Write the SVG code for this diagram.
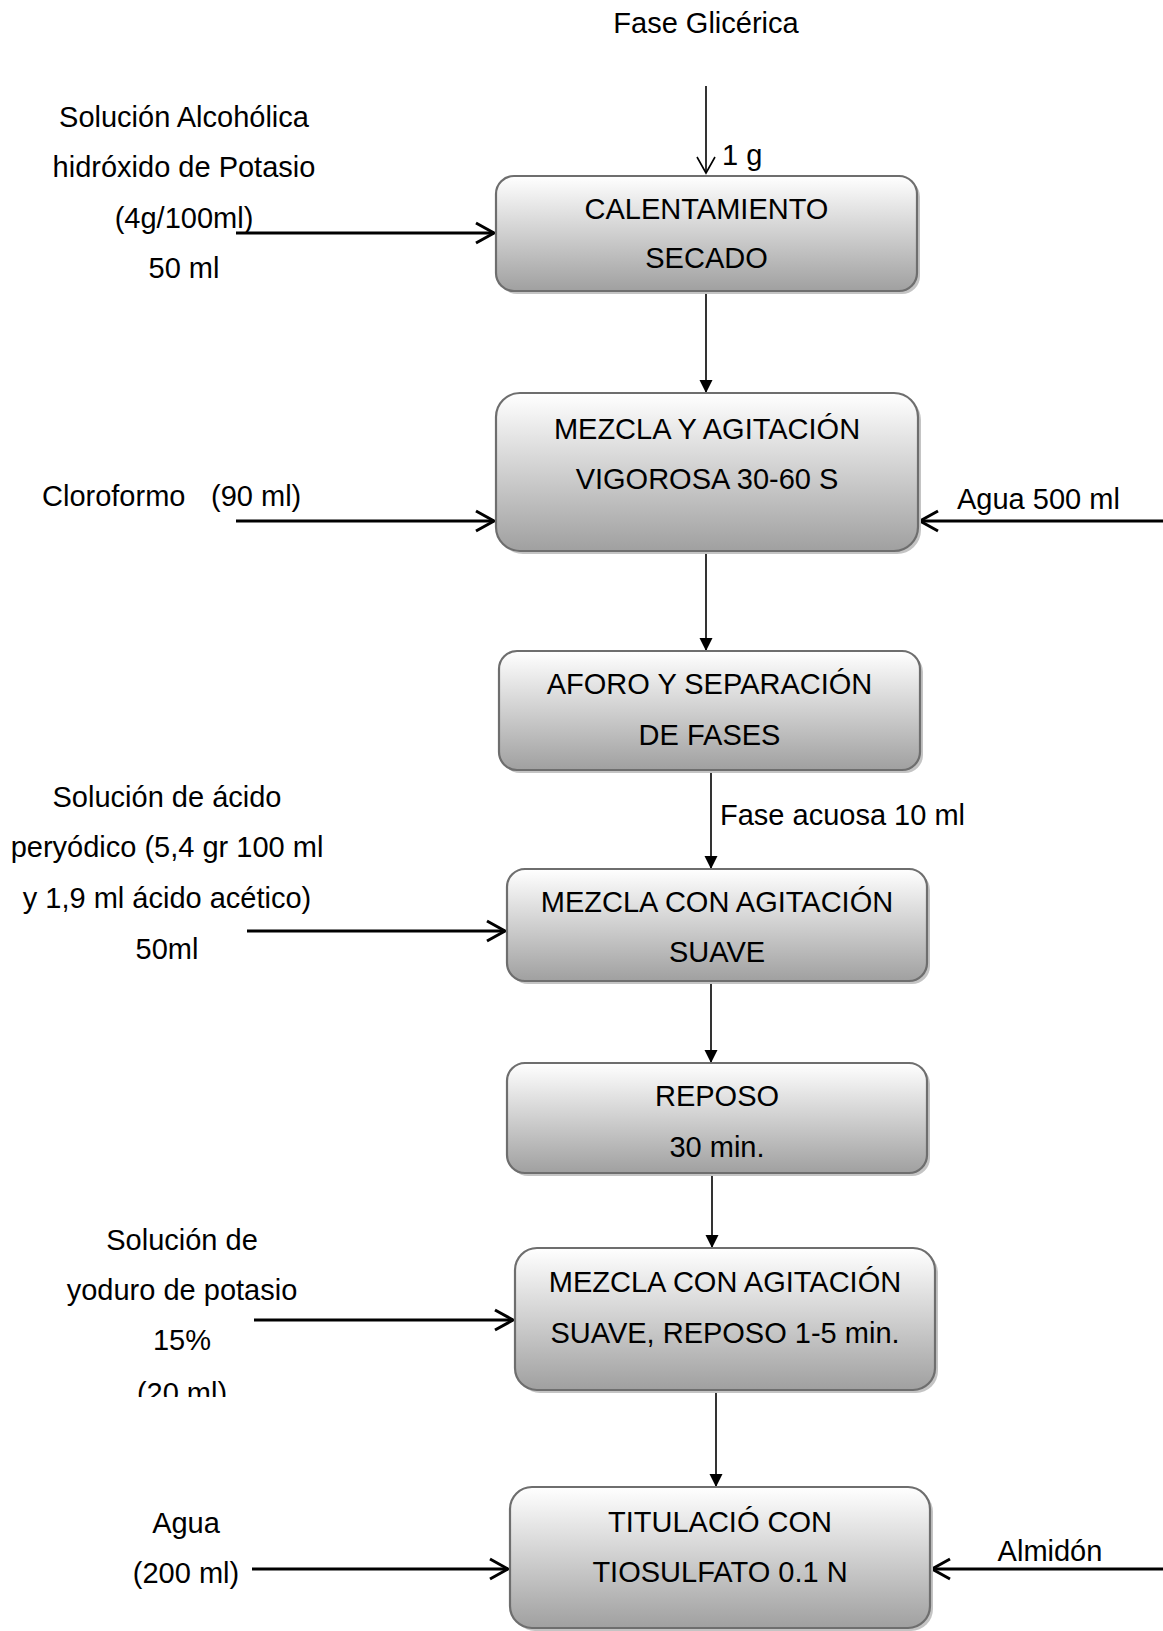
<svg xmlns="http://www.w3.org/2000/svg" width="1163" height="1631" viewBox="0 0 1163 1631">
  <style>
    text { font-family: "Liberation Sans", Arial, sans-serif; font-size: 29px; fill: #000; }
    .c { text-anchor: middle; }
    .box { fill: url(#grad); stroke: #6e6e6e; stroke-width: 2.2; }
    .shadow { fill: #c4c4c4; }
    .thick { stroke: #000; stroke-width: 3; fill: none; marker-end: url(#openBig); }
    .thin { stroke: #000; stroke-width: 1.6; fill: none; marker-end: url(#filled); }
    .thinopen { stroke: #000; stroke-width: 1.6; fill: none; marker-end: url(#openSmall); }
  </style>
  <defs>
    <linearGradient id="grad" x1="0" y1="0" x2="0" y2="1">
      <stop offset="0" stop-color="#ffffff"/>
      <stop offset="1" stop-color="#a0a0a0"/>
    </linearGradient>
    <marker id="openBig" markerUnits="userSpaceOnUse" viewBox="-22 -12 24 24" refX="0" refY="0" markerWidth="24" markerHeight="24" orient="auto" overflow="visible">
      <path d="M-18,-10 L0,0 L-18,10" fill="none" stroke="#000" stroke-width="3"/>
    </marker>
    <marker id="openSmall" markerUnits="userSpaceOnUse" viewBox="-20 -12 22 24" refX="0" refY="0" markerWidth="22" markerHeight="24" orient="auto" overflow="visible">
      <path d="M-16,-9 L0,0 L-16,9" fill="none" stroke="#000" stroke-width="1.6"/>
    </marker>
    <marker id="filled" markerUnits="userSpaceOnUse" viewBox="-14 -8 16 16" refX="0" refY="0" markerWidth="16" markerHeight="16" orient="auto" overflow="visible">
      <path d="M-13,-6.5 L0,0 L-13,6.5 Z" fill="#000"/>
    </marker>
    <clipPath id="clip20">
      <rect x="0" y="1360" width="400" height="37"/>
    </clipPath>
  </defs>

  <g id="connectors">
    <line class="thinopen" x1="706" y1="86" x2="706" y2="173"/>
    <line class="thin" x1="706" y1="292" x2="706" y2="393"/>
    <line class="thin" x1="706" y1="552" x2="706" y2="651"/>
    <line class="thin" x1="711" y1="771" x2="711" y2="869"/>
    <line class="thin" x1="711" y1="982" x2="711" y2="1063"/>
    <line class="thin" x1="712" y1="1174" x2="712" y2="1248"/>
    <line class="thin" x1="716" y1="1391" x2="716" y2="1487"/>
    <line class="thick" x1="236" y1="233" x2="494" y2="233"/>
    <line class="thick" x1="236" y1="521" x2="494" y2="521"/>
    <line class="thick" x1="1163" y1="521" x2="920" y2="521"/>
    <line class="thick" x1="247" y1="931" x2="505" y2="931"/>
    <line class="thick" x1="254" y1="1320" x2="513" y2="1320"/>
    <line class="thick" x1="252" y1="1569" x2="508" y2="1569"/>
    <line class="thick" x1="1163" y1="1569" x2="932" y2="1569"/>
  </g>

  <g id="label-fase-glicerica"><text class="c" x="706" y="33">Fase Glicérica</text></g>
  <g id="label-1g"><text x="722" y="165">1 g</text></g>

  <g id="node-calentamiento">
    <rect class="shadow" x="499" y="179" width="421" height="115" rx="18"/>
    <rect class="box" x="496" y="176" width="421" height="115" rx="18"/>
    <text class="c" x="706.5" y="219">CALENTAMIENTO</text>
    <text class="c" x="706.5" y="268">SECADO</text>
  </g>

  <g id="label-koh">
    <text class="c" x="184" y="127">Solución Alcohólica</text>
    <text class="c" x="184" y="177">hidróxido de Potasio</text>
    <text class="c" x="184" y="228">(4g/100ml)</text>
    <text class="c" x="184" y="278">50 ml</text>
  </g>

  <g id="node-mezcla-agitacion">
    <rect class="shadow" x="499" y="396" width="422" height="158" rx="24"/>
    <rect class="box" x="496" y="393" width="422" height="158" rx="24"/>
    <text class="c" x="707" y="439">MEZCLA Y AGITACIÓN</text>
    <text class="c" x="707" y="489">VIGOROSA 30-60 S</text>
  </g>

  <g id="label-cloroformo">
    <text x="42" y="506">Cloroformo</text>
    <text x="211" y="506">(90 ml)</text>
  </g>
  <g id="label-agua500"><text x="957" y="509">Agua 500 ml</text></g>

  <g id="node-aforo">
    <rect class="shadow" x="502" y="654" width="421" height="119" rx="18"/>
    <rect class="box" x="499" y="651" width="421" height="119" rx="18"/>
    <text class="c" x="709.5" y="694">AFORO Y SEPARACIÓN</text>
    <text class="c" x="709.5" y="745">DE FASES</text>
  </g>

  <g id="label-fase-acuosa"><text x="720" y="825">Fase acuosa 10 ml</text></g>

  <g id="label-periodico">
    <text class="c" x="167" y="807">Solución de ácido</text>
    <text class="c" x="167" y="857">peryódico (5,4 gr 100 ml</text>
    <text class="c" x="167" y="908">y 1,9 ml ácido acético)</text>
    <text class="c" x="167" y="959">50ml</text>
  </g>

  <g id="node-mezcla-suave">
    <rect class="shadow" x="510" y="872" width="420" height="112" rx="18"/>
    <rect class="box" x="507" y="869" width="420" height="112" rx="18"/>
    <text class="c" x="717" y="912">MEZCLA CON AGITACIÓN</text>
    <text class="c" x="717" y="962">SUAVE</text>
  </g>

  <g id="node-reposo">
    <rect class="shadow" x="510" y="1066" width="420" height="110" rx="18"/>
    <rect class="box" x="507" y="1063" width="420" height="110" rx="18"/>
    <text class="c" x="717" y="1106">REPOSO</text>
    <text class="c" x="717" y="1157">30 min.</text>
  </g>

  <g id="label-yoduro">
    <text class="c" x="182" y="1250">Solución de</text>
    <text class="c" x="182" y="1300">yoduro de potasio</text>
    <text class="c" x="182" y="1350">15%</text>
    <text class="c" x="182" y="1403" clip-path="url(#clip20)">(20 ml)</text>
  </g>

  <g id="node-mezcla-reposo">
    <rect class="shadow" x="518" y="1251" width="420" height="142" rx="22"/>
    <rect class="box" x="515" y="1248" width="420" height="142" rx="22"/>
    <text class="c" x="725" y="1292">MEZCLA CON AGITACIÓN</text>
    <text class="c" x="725" y="1343">SUAVE, REPOSO 1-5 min.</text>
  </g>

  <g id="label-agua200">
    <text class="c" x="186" y="1533">Agua</text>
    <text class="c" x="186" y="1583">(200 ml)</text>
  </g>
  <g id="label-almidon"><text class="c" x="1050" y="1561">Almidón</text></g>

  <g id="node-titulacion">
    <rect class="shadow" x="513" y="1490" width="420" height="141" rx="22"/>
    <rect class="box" x="510" y="1487" width="420" height="141" rx="22"/>
    <text class="c" x="720" y="1532">TITULACIÓ CON</text>
    <text class="c" x="720" y="1582">TIOSULFATO 0.1 N</text>
  </g>
</svg>
